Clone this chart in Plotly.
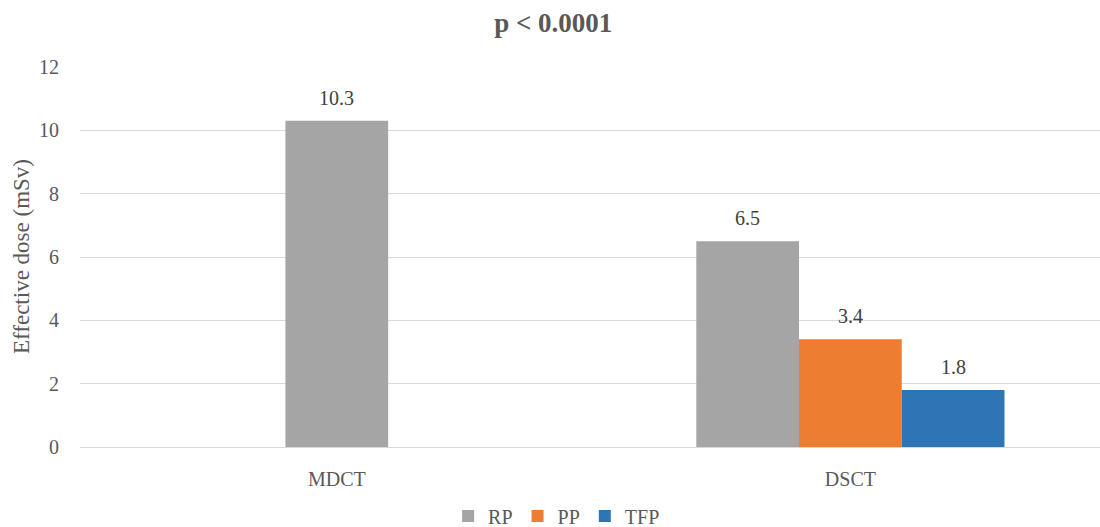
import plotly.graph_objects as go

categories = ["MDCT", "DSCT"]
series_names = ["RP", "PP", "TFP"]
rp_values = [10.3, 6.5]
pp_values = [None, 3.4]
tfp_values = [None, 1.8]
y_ticks = [0, 2, 4, 6, 8, 10, 12]

colors = {"RP": "#A5A5A5", "PP": "#ED7D31", "TFP": "#2E75B6"}
offsets = {"RP": [-0.1, -0.3], "PP": [-0.1, -0.1], "TFP": [0.1, 0.1]}
bar_w = 0.2
FONT = "Liberation Serif"
TXT = "#595959"

fig = go.Figure()
annotations = []
for name, vals in zip(series_names, [rp_values, pp_values, tfp_values]):
    xs = [c for c, v in zip(categories, vals) if v is not None]
    ys = [v for v in vals if v is not None]
    offs = [o for o, v in zip(offsets[name], vals) if v is not None]
    fig.add_trace(go.Bar(
        name=name, x=xs, y=ys, offset=offs, width=bar_w,
        marker=dict(color=colors[name], line=dict(width=0)),
        hoverinfo="x+y+name",
    ))
    for c, v, o in zip(xs, ys, offs):
        annotations.append(dict(
            x=categories.index(c) + o + bar_w / 2, y=v, xref="x", yref="y",
            text=f"{v:.1f}", showarrow=False, yanchor="bottom", yshift=10,
            font=dict(family=FONT, size=20, color="#404040"),
        ))

annotations.append(dict(
    text="Effective dose (mSv)", xref="paper", yref="paper", x=0, y=0.5,
    xshift=-59, xanchor="center", yanchor="middle", textangle=-90, showarrow=False,
    font=dict(family=FONT, size=23, color=TXT),
))

fig.update_layout(
    width=1100, height=527,
    margin=dict(l=80, r=0, t=67, b=80, autoexpand=False),
    paper_bgcolor="white", plot_bgcolor="white",
    barmode="overlay",
    title=dict(text="<b>p < 0.0001</b>", x=0.503, xref="container", xanchor="center",
               y=1 - 23 / 527, yref="container", yanchor="middle",
               font=dict(family=FONT, size=27, color=TXT)),
    showlegend=True,
    legend=dict(orientation="h", x=0.506, xref="container", xanchor="center",
                y=1 - 516 / 527, yref="container", yanchor="middle",
                font=dict(family=FONT, size=20, color=TXT), itemwidth=30,
                traceorder="normal"),
    annotations=annotations,
    font=dict(family=FONT, color=TXT),
)
fig.update_xaxes(
    type="category", categoryorder="array", categoryarray=categories,
    range=[-0.5, 1.486], showgrid=False, showline=False, zeroline=False,
    ticks="outside", ticklen=0, ticklabelstandoff=14,
    tickfont=dict(family=FONT, size=20, color=TXT),
)
fig.update_yaxes(
    range=[0, 12], tickvals=y_ticks, showgrid=True, gridcolor="#D9D9D9", gridwidth=1.3,
    zeroline=True, zerolinecolor="#D9D9D9", zerolinewidth=1.3, showline=False,
    ticks="outside", ticklen=0, ticklabelstandoff=16,
    tickfont=dict(family=FONT, size=20, color=TXT),
)

fig.write_html(
    "out.html",
    config={"displayModeBar": False},
    post_script="document.body.style.margin='0';document.body.style.overflow='hidden';",
)
